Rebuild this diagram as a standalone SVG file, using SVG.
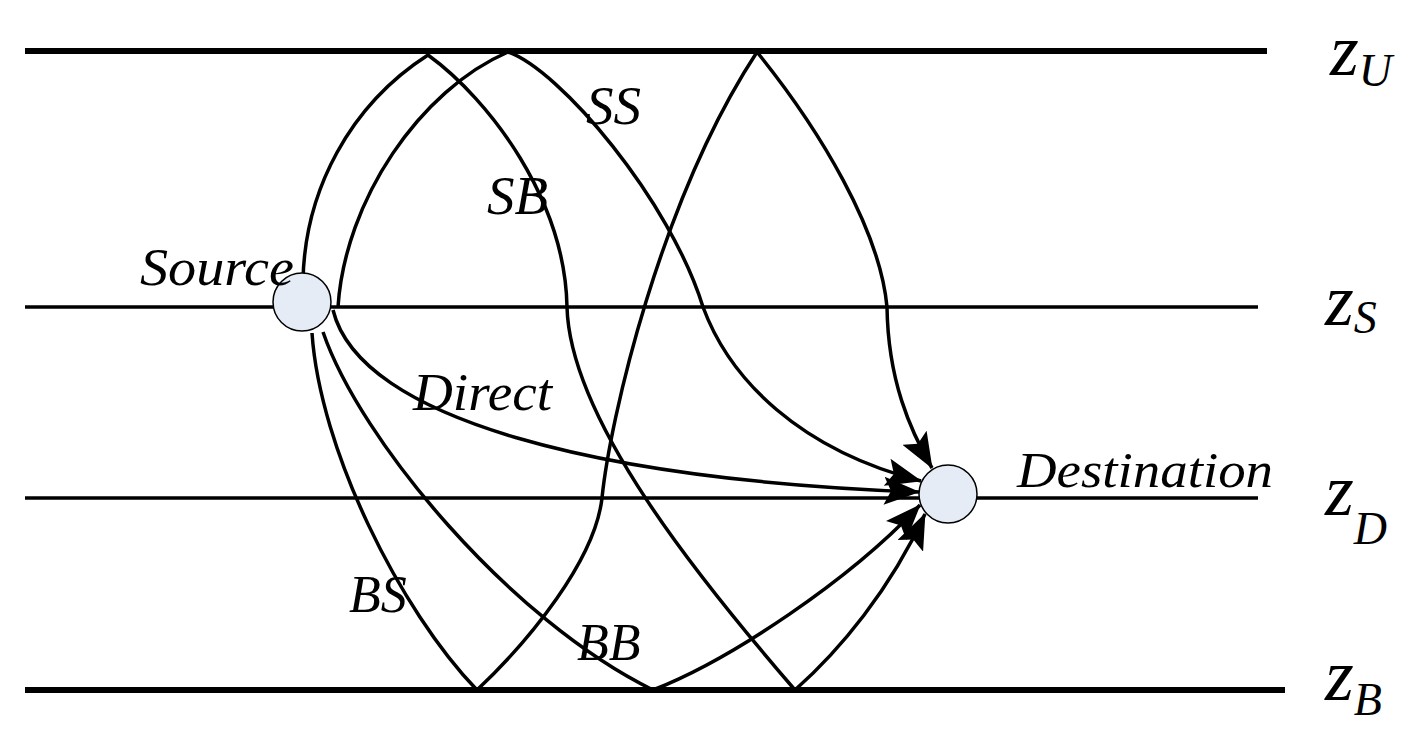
<svg xmlns="http://www.w3.org/2000/svg" width="1415" height="740" viewBox="0 0 1415 740">
<style>
.bnd{stroke:#000;fill:none}
.thick{stroke-width:6}
.thin{stroke-width:3.5}
.ray{stroke:#000;stroke-width:3.5;fill:none}
.lbl{font-family:"Liberation Serif","Times New Roman",serif;font-style:italic;fill:#000}
.node{fill:#E6ECF6;stroke:#000;stroke-width:1.5}
</style>
<defs>
<marker id="ah" markerUnits="userSpaceOnUse" markerWidth="36" markerHeight="28" viewBox="0 0 36 28" refX="35" refY="14" orient="auto">
<path d="M0,0 L36,14 L0,28 L7,14 z" fill="#000"/>
</marker>
</defs>
<rect width="1415" height="740" fill="#fff"/>
<g id="boundaries">
<line class="bnd thick" x1="25" y1="51" x2="1267" y2="51"/>
<line class="bnd thin" x1="25" y1="307" x2="1258" y2="307"/>
<line class="bnd thin" x1="25" y1="498" x2="1258" y2="498"/>
<line class="bnd thick" x1="25" y1="690" x2="1285" y2="690"/>
</g>
<g id="connectors">
<path id="ray-sb" class="ray" marker-end="url(#ah)" d="M303,280 C305,190 350,105 428,55 C490,100 565,200 567,307 C570,420 700,580 795,690 C840,650 890,590 925,514"/>
<path id="ray-ss" class="ray" marker-end="url(#ah)" d="M338,307 C345,200 420,90 508,52 C560,70 670,200 703,307 C730,380 800,450 921,481"/>
<path id="ray-bs" class="ray" marker-end="url(#ah)" d="M312,333 C320,450 400,610 477,690 C530,640 595,560 602,498 C610,420 660,200 757,52 C820,130 880,230 887,307 C888,380 910,430 932,468"/>
<path id="ray-bb" class="ray" marker-end="url(#ah)" d="M323,332 C360,440 510,620 653,690 C730,660 850,580 920,505"/>
<path id="ray-direct" class="ray" marker-end="url(#ah)" d="M333,310 C360,420 600,480 919,492"/>
</g>
<g id="source">
<circle class="node" cx="302" cy="302" r="29"/>
<text class="lbl" x="140" y="285" font-size="52" textLength="154" lengthAdjust="spacingAndGlyphs">Source</text>
</g>
<g id="destination">
<circle class="node" cx="948" cy="494" r="29"/>
<text class="lbl" x="1017" y="487" font-size="50" textLength="256" lengthAdjust="spacingAndGlyphs">Destination</text>
</g>
<g id="labels">
<text class="lbl" x="413" y="410" font-size="52" textLength="139" lengthAdjust="spacingAndGlyphs">Direct</text>
<text class="lbl" x="586" y="124" font-size="55">SS</text>
<text class="lbl" x="487" y="214" font-size="55">SB</text>
<text class="lbl" x="349" y="612" font-size="52">BS</text>
<text class="lbl" x="577" y="660" font-size="52">BB</text>
</g>
<g id="axis-labels">
<text class="lbl" x="1330" y="75" font-size="74">z<tspan font-size="46" dy="11">U</tspan></text>
<text class="lbl" x="1325" y="325" font-size="74">z<tspan font-size="46" dy="8">S</tspan></text>
<text class="lbl" x="1325" y="515" font-size="74">z<tspan font-size="46" dy="29">D</tspan></text>
<text class="lbl" x="1325" y="700" font-size="74">z<tspan font-size="46" dy="15">B</tspan></text>
</g>
</svg>
